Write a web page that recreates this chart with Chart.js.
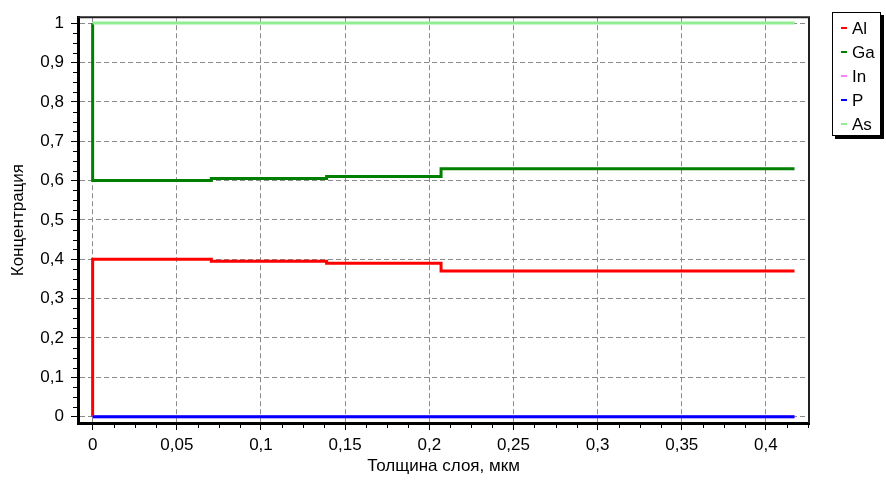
<!DOCTYPE html>
<html><head><meta charset="utf-8">
<script src="https://cdn.jsdelivr.net/npm/chart.js@4/dist/chart.umd.min.js"></script>
<style>html,body{margin:0;padding:0;background:#fff}#wrap{width:886px;height:486px;position:relative}canvas{display:block}</style>
</head><body><div id="wrap"><canvas id="c" width="886" height="486" style="width:886px;height:486px"></canvas></div>
<script>
// ---- data ----
const seriesNames = ['Al', 'Ga', 'In', 'P', 'As'];
const seriesColors = ['#ff0000', '#008000', '#ff80ff', '#0000ff', '#90ee90'];
const layerBounds = [0, 0.0705, 0.139, 0.207, 0.417]; // layer starts, last = end of profile
const startValues = [0, 1, 0, 0, 1];                  // value just before x = 0
const alValues = [0.4, 0.395, 0.39, 0.37];
const gaValues = [0.6, 0.605, 0.61, 0.63];
const inValues = [0, 0, 0, 0];
const pValues  = [0, 0, 0, 0];
const asValues = [1, 1, 1, 1];
const xTickValues = [0, 0.05, 0.1, 0.15, 0.2, 0.25, 0.3, 0.35, 0.4];
const xTickLabels = ['0', '0,05', '0,1', '0,15', '0,2', '0,25', '0,3', '0,35', '0,4'];
const yTickValues = [0, 0.1, 0.2, 0.3, 0.4, 0.5, 0.6, 0.7, 0.8, 0.9, 1];
const yTickLabels = ['0', '0,1', '0,2', '0,3', '0,4', '0,5', '0,6', '0,7', '0,8', '0,9', '1'];
const xTitle = 'Толщина слоя, мкм';
const yTitle = 'Концентрация';

const allValues = [alValues, gaValues, inValues, pValues, asValues];

function buildPoints(start, vals) {
  const pts = [{x: layerBounds[0], y: start}];
  for (let i = 0; i < vals.length; i++) pts.push({x: layerBounds[i], y: vals[i]});
  pts.push({x: layerBounds[layerBounds.length - 1], y: vals[vals.length - 1]});
  return pts;
}

const datasets = seriesNames.map((n, i) => ({
  label: n,
  data: buildPoints(startValues[i], allValues[i]),
  borderColor: seriesColors[i],
  backgroundColor: seriesColors[i],
  borderWidth: 3,
  pointRadius: 0,
  showLine: true,
  stepped: 'before',
  fill: false,
  order: seriesNames.length - i
}));

const FAMILY = '"Liberation Sans Narrow", "Arial Narrow", "Liberation Sans", Arial, sans-serif';
const FONT = {family: FAMILY, size: 17};

const framePlugin = {
  id: 'frame',
  afterDraw(chart) {
    const ctx = chart.ctx, a = chart.chartArea;
    const xs = chart.scales.x, ys = chart.scales.y;
    ctx.save();
    // top and right frame
    ctx.strokeStyle = '#222';
    ctx.lineWidth = 2;
    ctx.beginPath();
    ctx.moveTo(a.left, a.top); ctx.lineTo(a.right, a.top); ctx.lineTo(a.right, a.bottom);
    ctx.stroke();
    // minor ticks
    ctx.strokeStyle = '#000';
    ctx.lineWidth = 1;
    ctx.beginPath();
    for (let i = 0; i < xTickValues.length; i++) {
      for (let k = 1; k <= 3; k++) {
        const v = xTickValues[i] + k * 0.0125;
        if (v > xs.max) break;
        const px = Math.round(xs.getPixelForValue(v)) + 0.5;
        ctx.moveTo(px, a.bottom + 1); ctx.lineTo(px, a.bottom + 5);
      }
    }
    for (let i = 0; i < yTickValues.length - 1; i++) {
      for (let k = 1; k <= 3; k++) {
        const v = yTickValues[i] + k * 0.025;
        const py = Math.round(ys.getPixelForValue(v)) + 0.5;
        ctx.moveTo(a.left - 5, py); ctx.lineTo(a.left - 1, py);
      }
    }
    ctx.stroke();
    // legend
    const lx = 832, ly = 12, lw = 49, lh = 124;
    ctx.fillStyle = '#000';
    ctx.fillRect(lx + 3, ly + 3, lw, lh);
    ctx.fillStyle = '#fff';
    ctx.fillRect(lx, ly, lw, lh);
    ctx.strokeStyle = '#000';
    ctx.lineWidth = 1;
    ctx.strokeRect(lx + 0.5, ly + 0.5, lw - 1, lh - 1);
    ctx.font = '17px ' + FAMILY;
    ctx.textBaseline = 'middle';
    ctx.textAlign = 'left';
    chart.data.datasets.forEach((d, i) => {
      const y = ly + 16 + i * 24;
      ctx.fillStyle = d.borderColor;
      ctx.fillRect(lx + 9, y - 1, 6, 2);
      ctx.fillStyle = '#000';
      ctx.fillText(d.label, lx + 20, y + 1);
    });
    ctx.restore();
  }
};

new Chart(document.getElementById('c'), {
  type: 'scatter',
  data: {datasets},
  options: {
    responsive: false,
    animation: false,
    devicePixelRatio: 1,
    layout: {padding: {left: 0, top: 14, right: 77, bottom: 0}},
    plugins: {legend: {display: false}, tooltip: {enabled: false}},
    scales: {
      x: {
        type: 'linear', min: -0.0087, max: 0.4256,
        afterBuildTicks: s => { s.ticks = xTickValues.map(v => ({value: v})); },
        afterFit: s => { s.height = 63; },
        ticks: {font: FONT, color: '#000', padding: 5, maxRotation: 0, autoSkip: false,
                callback: (v, i) => xTickLabels[i]},
        grid: {color: '#8a8a8a', lineWidth: 1, tickLength: 7, tickColor: '#000', tickWidth: 1},
        border: {display: true, color: '#000', width: 3, dash: [5, 3]},
        title: {display: true, text: xTitle, font: FONT, color: '#000', padding: {top: 0, bottom: 9}}
      },
      y: {
        type: 'linear', min: -0.016, max: 1.015,
        afterBuildTicks: s => { s.ticks = yTickValues.map(v => ({value: v})); },
        afterFit: s => { s.width = 78; },
        ticks: {font: FONT, color: '#000', padding: 7, autoSkip: false,
                callback: (v, i) => yTickLabels[i]},
        grid: {color: '#8a8a8a', lineWidth: 1, tickLength: 7, tickColor: '#000', tickWidth: 1},
        border: {display: true, color: '#000', width: 3, dash: [5, 3]},
        title: {display: true, text: yTitle, font: FONT, color: '#000', padding: {top: 8, bottom: 0}}
      }
    }
  },
  plugins: [framePlugin]
});
</script></body></html>
